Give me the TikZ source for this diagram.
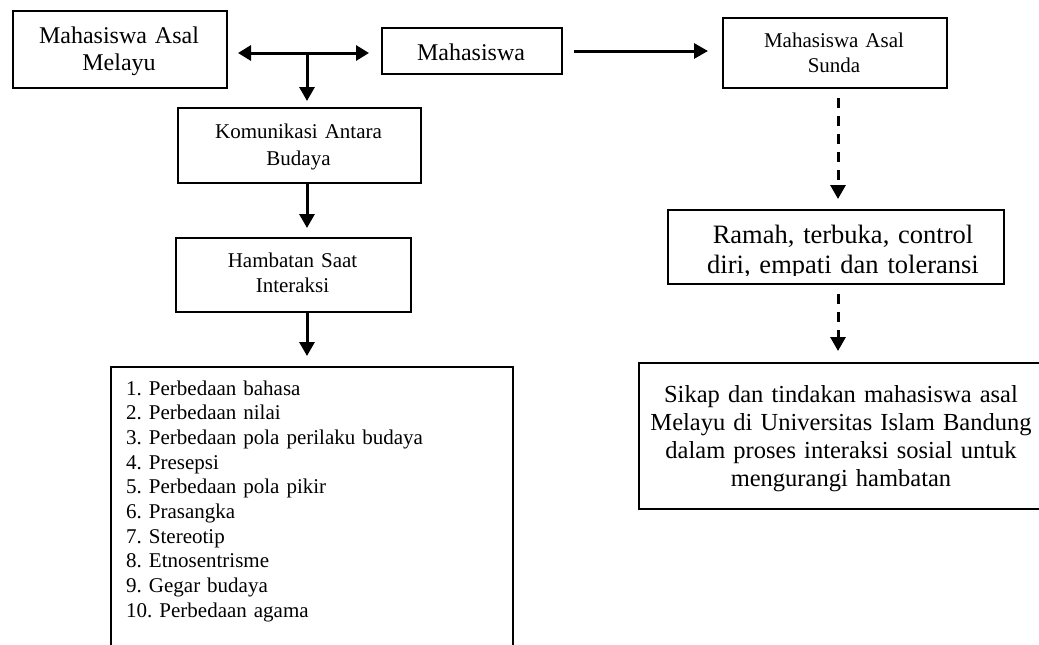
\documentclass[tikz,border=0pt]{standalone}
\usepackage{fontspec}
\setmainfont{Liberation Serif}
\usetikzlibrary{arrows.meta}
\newcommand\myfs[2]{\fontsize{#1}{#2}\selectfont}
\frenchspacing
\begin{document}
\begin{tikzpicture}[x=1pt,y=-1pt,
  box/.style={draw,line width=2pt,inner sep=0pt,anchor=north west},
  txt/.style={inner sep=0pt,align=center,anchor=base},
  arr/.style={line width=3pt,-{Triangle[length=14pt,width=15pt]}},
  darr/.style={arr,dash pattern=on 10pt off 8pt}]
\useasboundingbox (0,0) rectangle (1039,645);
\fill[white] (0,0) rectangle (1039,645);
\clip (0,0) rectangle (1039,645);

% boxes
\node[box,minimum width=214pt,minimum height=77pt] (melayu) at (12,10) {};
\node[box,minimum width=180pt,minimum height=46pt] (mhs) at (381,27) {};
\node[box,minimum width=224pt,minimum height=70pt] (sunda) at (722,17) {};
\node[box,minimum width=243pt,minimum height=75pt] (komu) at (177,107) {};
\node[box,minimum width=235pt,minimum height=74pt] (hamb) at (175,237) {};
\node[box,minimum width=402pt,minimum height=300pt] (list) at (110,366) {};
\node[box,minimum width=336pt,minimum height=74pt] (ramah) at (667,209) {};
\node[box,minimum width=406pt,minimum height=146pt] (sikap) at (638,362) {};

% texts
\node[txt,font=\myfs{24}{27},text width=210pt] (melayu-t) at (119,43) {Mahasiswa Asal\\Melayu};
\node[txt,font=\myfs{24}{27}] (mhs-t) at (471,60) {Mahasiswa};
\node[txt,font=\myfs{21}{25},text width=220pt] (sunda-t) at (834,47) {Mahasiswa Asal\\Sunda};
\node[txt,font=\myfs{21}{27},text width=240pt] (komu-t) at (298.5,138) {Komunikasi Antara\\Budaya};
\node[txt,font=\myfs{21}{25},text width=230pt] (hamb-t) at (292.5,267) {Hambatan Saat\\Interaksi};
\node[inner sep=0pt,anchor=base west,align=left,text width=380pt,font=\myfs{21}{24.7}] (list-t) at (126,395)
  {1. Perbedaan bahasa\\2. Perbedaan nilai\\3. Perbedaan pola perilaku budaya\\4. Presepsi\\5. Perbedaan pola pikir\\6. Prasangka\\7. Stereotip\\8. Etnosentrisme\\9. Gegar budaya\\10. Perbedaan agama};
\begin{scope}
\clip (667,209) rectangle (1003,275);
\node[txt,font=\myfs{26.5}{30},text width=330pt] (ramah-t) at (843,243) {Ramah, terbuka, control\\diri, empati dan toleransi};
\end{scope}
\node[txt,font=\myfs{24.5}{28},text width=400pt] (sikap-t) at (841,402) {Sikap dan tindakan mahasiswa asal\\Melayu di Universitas Islam Bandung\\dalam proses interaksi sosial untuk\\mengurangi hambatan};

% connectors
\coordinate (j) at (307,53);
\coordinate (m) at (0,51);
\coordinate (d) at (838,0);
\draw[line width=3pt,{Triangle[length=13pt,width=15pt]}-{Triangle[length=13pt,width=15pt]},shorten <=10pt,shorten >=12pt] (melayu.east |- j) -- (mhs.west |- j);
\draw[arr,shorten >=6pt] (j) -- (komu.north -| j);
\draw[arr,shorten >=9pt] (komu.south -| j) -- (hamb.north -| j);
\draw[arr,shorten >=10pt] (hamb.south -| j) -- (list.north -| j);
\draw[arr,shorten <=11pt,shorten >=14pt] (mhs.east |- m) -- (sunda.west |- m);
\draw[darr,shorten <=9pt,shorten >=10pt] (sunda.south -| d) -- (ramah.north -| d);
\draw[darr,shorten <=9pt,shorten >=11pt] (ramah.south -| d) -- (sikap.north -| d);
\end{tikzpicture}
\end{document}
